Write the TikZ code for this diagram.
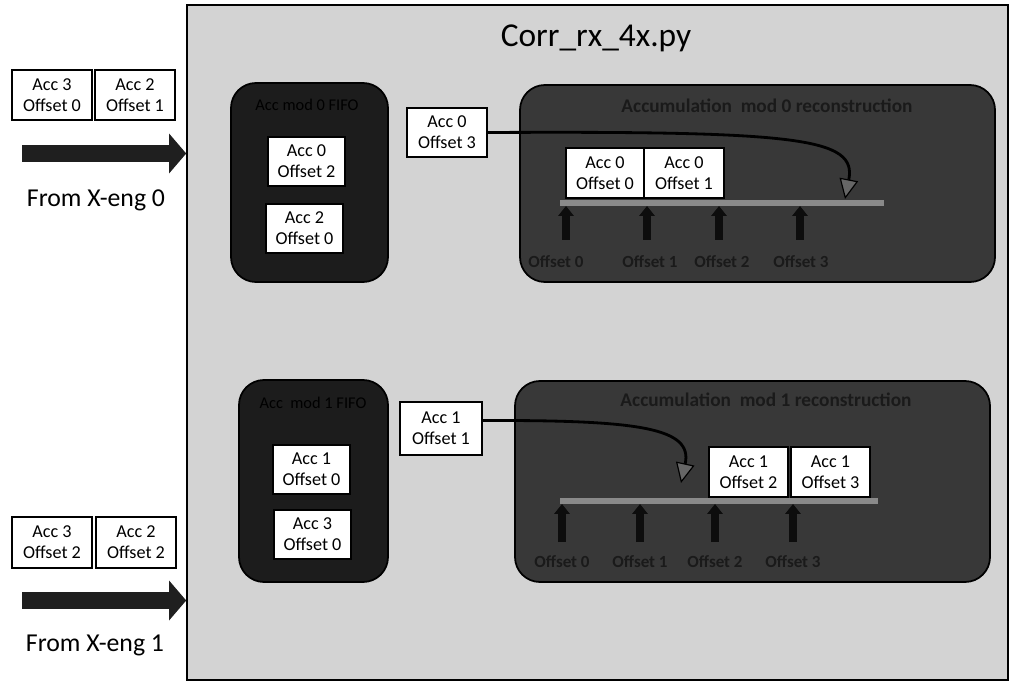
\documentclass[tikz,border=0pt]{standalone}
\usepackage{fontspec}
\setmainfont{Carlito}
\usetikzlibrary{arrows.meta}
\definecolor{bgray}{HTML}{D3D3D3}
\definecolor{fifofill}{HTML}{1C1C1C}
\definecolor{recfill}{HTML}{383838}
\definecolor{recbar}{HTML}{8A8A8A}
\definecolor{dimtext}{HTML}{1A1A1A}
\begin{document}
\begin{tikzpicture}[x=0.03cm,y=-0.03cm,
  mainbox/.style={draw=black, line width=1.3pt, fill=bgray, inner sep=0pt},
  pkt/.style={draw=black, line width=1.7pt, fill=white, inner sep=0pt, align=center,
    font=\fontsize{15.5}{18}\selectfont, minimum width=2.4cm, minimum height=1.5cm},
  fifo/.style={draw=black, line width=1.5pt, fill=fifofill, rounded corners=0.75cm, inner sep=0pt},
  recon/.style={draw=black, line width=1.5pt, fill=recfill, rounded corners=0.75cm, inner sep=0pt},
  dimlabel/.style={text=dimtext, font=\bfseries\fontsize{14.5}{17}\selectfont, inner sep=0pt},
  rectitle/.style={text=dimtext, font=\bfseries\fontsize{16.5}{19}\selectfont, inner sep=0pt},
  fifotitle/.style={text=black, font=\fontsize{14}{17}\selectfont, inner sep=0pt},
  bigarrow/.style={draw=black!88, line width=14.5pt, -{Triangle[length=14.5pt,width=33pt]}},
  uparrow/.style={draw=black!95, line width=6pt, -{Triangle[length=8.5pt,width=13pt]}},
  curvearrow/.style={draw=black, line width=2.4pt, -{Triangle[length=17pt,width=16pt,fill=black!60,line width=1pt]}},
  bar/.style={draw=recbar, line width=5pt},
  fromlabel/.style={font=\fontsize{22}{24}\selectfont, inner sep=0pt}
]
\useasboundingbox (0,0) rectangle (1013,684);
\fill[white] (0,0) rectangle (1013,684);

% main box
\node[mainbox, minimum width=24.63cm, minimum height=20.25cm] (main) at (597.5,342.5) {};
\node[font=\fontsize{28.5}{31}\selectfont, inner sep=0pt] (title) at (596,38) {Corr\_rx\_4x.py};

% inputs from X-engines
\node[pkt] (L0a) at (52,95) {Acc 3\\Offset 0};
\node[pkt] (L0b) at (135,95) {Acc 2\\Offset 1};
\coordinate (in0) at (22,153.5);
\draw[bigarrow] (in0) -- (in0 -| main.west);
\node[fromlabel] (from0) at (96,200) {From X-eng 0};

\node[pkt, minimum height=1.53cm] (L1a) at (52,542.5) {Acc 3\\Offset 2};
\node[pkt, minimum height=1.53cm] (L1b) at (136,542.5) {Acc 2\\Offset 2};
\coordinate (in1) at (22,600.5);
\draw[bigarrow] (in1) -- (in1 -| main.west);
\node[fromlabel] (from1) at (95,645) {From X-eng 1};

% FIFOs
\node[fifo, minimum width=4.71cm, minimum height=5.97cm] (fifo0) at (309.5,182.5) {};
\node[fifotitle] (fifo0t) at (307,105) {Acc mod 0 FIFO};
\node[pkt, minimum width=2.31cm, minimum height=1.47cm] (F0a) at (306.5,161.5) {Acc 0\\Offset 2};
\node[pkt, minimum width=2.31cm, minimum height=1.47cm] (F0b) at (304.5,228.5) {Acc 2\\Offset 0};

\node[fifo, minimum width=4.47cm, minimum height=6.06cm] (fifo1) at (313.5,481) {};
\node[fifotitle] (fifo1t) at (313,403) {Acc\ \ mod 1 FIFO};
\node[pkt, minimum width=2.31cm, minimum height=1.47cm] (F1a) at (311.5,469.5) {Acc 1\\Offset 0};
\node[pkt, minimum width=2.31cm, minimum height=1.47cm] (F1b) at (312.5,534.5) {Acc 3\\Offset 0};

% reconstruction 0
\node[recon, minimum width=14.25cm, minimum height=5.91cm] (rec0) at (757.5,183.5) {};
\node[rectitle] (rec0t) at (767,106) {Accumulation\ \ mod 0 reconstruction};
\node[pkt, minimum height=1.47cm] (out0) at (447,132.5) {Acc 0\\Offset 3};
\node[pkt, minimum width=2.34cm] (R0a) at (605,173) {Acc 0\\Offset 0};
\node[pkt] (R0b) at (684,173) {Acc 0\\Offset 1};
\coordinate (bar0s) at (560,203);
\coordinate (bar0e) at (884,203);
\draw[bar] (bar0s) -- (bar0e);
\foreach \i/\x/\lx in {0/566/556,1/647/650,2/719/722,3/800/801}{
  \coordinate (u0b\i) at (\x,240);
  \coordinate (u0t\i) at (\x,206);
  \draw[uparrow] (u0b\i) -- (u0t\i);
  \node[dimlabel] (o0l\i) at (\lx,262) {Offset \i};
}
\coordinate (t0) at (845,199);
\draw[curvearrow] (out0.east) .. controls (800,131) and (857,138) .. (t0);

% reconstruction 1
\node[recon, minimum width=14.25cm, minimum height=6.03cm] (rec1) at (752.5,481.5) {};
\node[rectitle] (rec1t) at (766,400) {Accumulation\ \ mod 1 reconstruction};
\node[pkt, minimum width=2.46cm, minimum height=1.59cm] (out1) at (441,428.5) {Acc 1\\Offset 1};
\node[pkt, minimum width=2.37cm] (R1a) at (748.5,472) {Acc 1\\Offset 2};
\node[pkt, minimum width=2.37cm] (R1b) at (830.5,472) {Acc 1\\Offset 3};
\coordinate (bar1s) at (560,501);
\coordinate (bar1e) at (878,501);
\draw[bar] (bar1s) -- (bar1e);
\foreach \i/\x in {0/562,1/640,2/715,3/793}{
  \coordinate (u1b\i) at (\x,542);
  \coordinate (u1t\i) at (\x,504);
  \draw[uparrow] (u1b\i) -- (u1t\i);
  \node[dimlabel] (o1l\i) at (\x,562) {Offset \i};
}
\coordinate (t1) at (681,483);
\draw[curvearrow] ([yshift=0.24cm]out1.east) .. controls (640,420) and (693,428) .. (t1);
\end{tikzpicture}
\end{document}
